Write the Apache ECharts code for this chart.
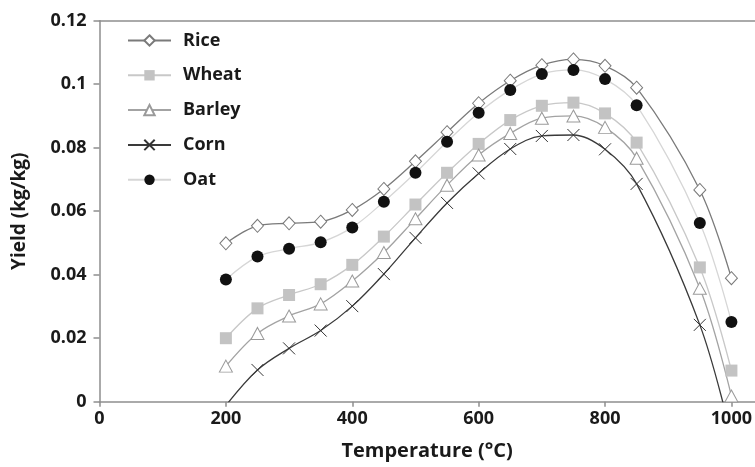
<!DOCTYPE html>
<html>
<head>
<meta charset="utf-8">
<script src="https://cdn.jsdelivr.net/npm/echarts@6/dist/echarts.min.js"></script>
<style>
  html, body { margin: 0; padding: 0; background: #fff; }
  #chart { width: 755px; height: 467px; }
</style>
</head>
<body>
<div id="chart"></div>
<script>
var temps  = [200, 250, 300, 350, 400, 450, 500, 550, 600, 650, 700, 750, 800, 850, 950, 1000];
var rice   = [0.0499, 0.0554, 0.0562, 0.0567, 0.0604, 0.0670, 0.0757, 0.0849, 0.0940, 0.1011, 0.1060, 0.1078, 0.1058, 0.0989, 0.0667, 0.0389];
var wheat  = [0.0200, 0.0294, 0.0336, 0.0370, 0.0431, 0.0520, 0.0621, 0.0721, 0.0812, 0.0887, 0.0932, 0.0942, 0.0908, 0.0816, 0.0423, 0.0098];
var barley = [0.0112, 0.0215, 0.0270, 0.0308, 0.0380, 0.0470, 0.0576, 0.0682, 0.0777, 0.0845, 0.0893, 0.0900, 0.0864, 0.0767, 0.0357, 0.0018];
var corn   = [-0.0012, 0.0100, 0.0168, 0.0224, 0.0301, 0.0402, 0.0516, 0.0626, 0.0719, 0.0796, 0.0837, 0.0840, 0.0795, 0.0686, 0.0242, -0.0110];
var oat    = [0.0385, 0.0457, 0.0482, 0.0502, 0.0549, 0.0630, 0.0721, 0.0819, 0.0910, 0.0982, 0.1032, 0.1045, 0.1016, 0.0934, 0.0563, 0.0251];
var names  = ['Rice', 'Wheat', 'Barley', 'Corn', 'Oat'];
var yTicks = [0, 0.02, 0.04, 0.06, 0.08, 0.1, 0.12];

function pairs(vals) {
  return temps.map(function (t, i) { return [t, vals[i]]; });
}

var font = '"Open Sans", "Liberation Sans", sans-serif';
var axisGray = '#8e8e8e';

(function () {
  var myChart = echarts.init(document.getElementById('chart'));
  var option = {
    animation: false,
    textStyle: { fontFamily: font },
    grid: { left: 99.5, top: 20.7, right: 0, bottom: 65.3, containLabel: false },
    legend: {
      orient: 'vertical',
      left: 127,
      top: 28.5,
      padding: 0,
      itemWidth: 43,
      itemHeight: 13,
      itemGap: 10.8,
      data: names,
      textStyle: { fontFamily: font, fontWeight: 'bold', fontSize: 18, color: '#1a1a1a', padding: [0, 0, 0, 7], lineHeight: 24 }
    },
    xAxis: [
      {
        type: 'value',
        min: 0,
        max: 1037,
        interval: 200,
        name: 'Temperature (°C)',
        nameLocation: 'middle',
        nameGap: 40,
        nameTextStyle: { fontFamily: font, fontWeight: 'bold', fontSize: 20, color: '#1a1a1a' },
        axisLine: { show: true, onZero: false, lineStyle: { color: axisGray, width: 1.5 } },
        axisTick: { show: true, length: 5, lineStyle: { color: axisGray, width: 1.5 } },
        axisLabel: {
          showMaxLabel: false,
          margin: 8,
          fontFamily: font, fontWeight: 'bold', fontSize: 18, color: '#1a1a1a',
          formatter: function (v) { return v % 200 === 0 ? String(v) : ''; }
        },
        splitLine: { show: false }
      },
      {
        type: 'value',
        position: 'top',
        min: 0,
        max: 1037,
        axisLine: { show: true, onZero: false, lineStyle: { color: axisGray, width: 1.5 } },
        axisTick: { show: false },
        axisLabel: { show: false },
        splitLine: { show: false }
      }
    ],
    yAxis: {
      type: 'value',
      min: yTicks[0],
      max: yTicks[yTicks.length - 1],
      interval: 0.02,
      name: 'Yield (kg/kg)',
      nameLocation: 'middle',
      nameGap: 70,
      nameTextStyle: { fontFamily: font, fontWeight: 'bold', fontSize: 19, color: '#1a1a1a' },
      axisLine: { show: true, lineStyle: { color: axisGray, width: 1.5 } },
      axisTick: { show: true, length: 6, lineStyle: { color: axisGray, width: 1.5 } },
      axisLabel: { margin: 13, fontFamily: font, fontWeight: 'bold', fontSize: 18, color: '#1a1a1a' },
      splitLine: { show: false }
    },
    series: [
      {
        name: 'Rice', type: 'line', data: pairs(rice), smooth: 0.35,
        symbol: 'diamond', symbolSize: [12, 13],
        lineStyle: { color: '#7a7a7a', width: 1.3 },
        itemStyle: { color: '#ffffff', borderColor: '#7a7a7a', borderWidth: 1 }
      },
      {
        name: 'Wheat', type: 'line', data: pairs(wheat), smooth: 0.35,
        symbol: 'rect', symbolSize: 12,
        lineStyle: { color: '#c8c8c8', width: 1.3 },
        itemStyle: { color: '#c3c3c3', borderWidth: 0 }
      },
      {
        name: 'Barley', type: 'line', data: pairs(barley), smooth: 0.35,
        symbol: 'triangle', symbolSize: [13, 12],
        lineStyle: { color: '#a3a3a3', width: 1.3 },
        itemStyle: { color: '#ffffff', borderColor: '#9a9a9a', borderWidth: 1 }
      },
      {
        name: 'Corn', type: 'line', data: pairs(corn), smooth: 0.35,
        symbol: 'path://M0,0L10,10M10,0L0,10', symbolSize: 12,
        lineStyle: { color: '#3a3a3a', width: 1.3 },
        itemStyle: { color: 'none', borderColor: '#333333', borderWidth: 1 }
      },
      {
        name: 'Oat', type: 'line', data: pairs(oat), smooth: 0.35,
        symbol: 'circle', symbolSize: 12,
        lineStyle: { color: '#d6d6d6', width: 1.3 },
        itemStyle: { color: '#111111', borderWidth: 0 }
      }
    ]
  };
  myChart.setOption(option);
  window.addEventListener('resize', function () {
    myChart.resize();
  });
})();
</script>
</body>
</html>
